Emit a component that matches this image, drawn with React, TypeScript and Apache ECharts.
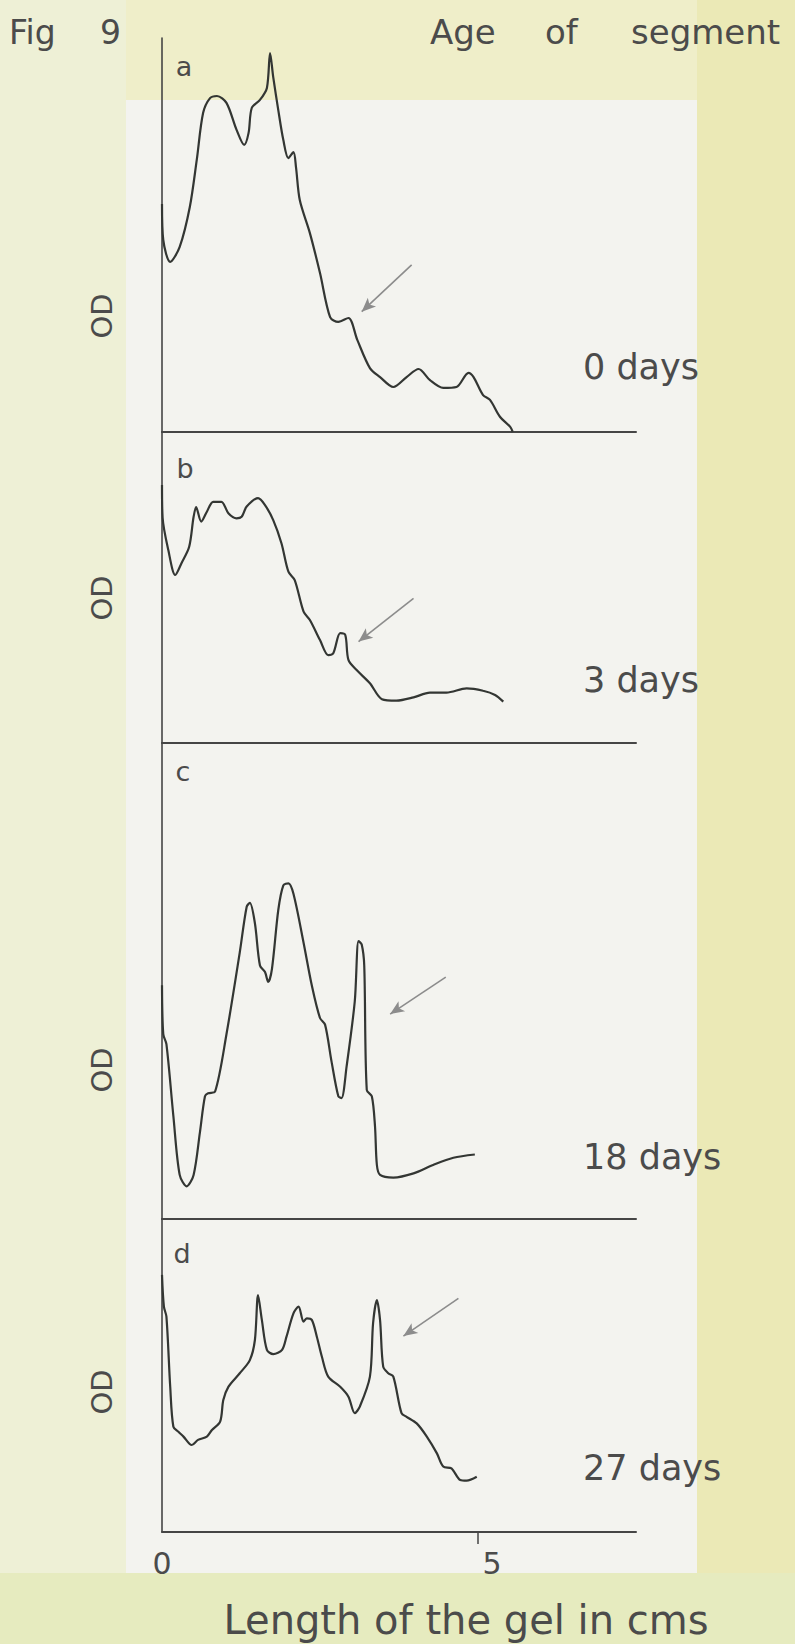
import React, { useEffect, useRef } from "react";
import * as echarts from "echarts";

// ---- Data (x: length of gel in cm, OD: arbitrary densitometer units) ----
const aX = [0, 0.02, 0.13, 0.28, 0.44, 0.55, 0.65, 0.76, 0.87, 1.02, 1.18, 1.30, 1.37, 1.42, 1.55, 1.66, 1.71, 1.76, 1.84, 1.92, 2.00, 2.08, 2.12, 2.18, 2.34, 2.50, 2.66, 2.79, 2.95, 3.09, 3.29, 3.45, 3.66, 3.87, 4.06, 4.24, 4.45, 4.66, 4.85, 4.93, 5.08, 5.19, 5.35, 5.51, 5.55];
const aOD = [76, 64, 56.7, 61.7, 75, 90.7, 106.3, 111.3, 112, 109.7, 100.7, 95.7, 99.7, 108, 110.7, 114.7, 126.3, 118.3, 107.3, 97.3, 91.3, 93.3, 88.3, 77.3, 66.3, 53, 38.3, 36.7, 38, 30.7, 21.3, 18.3, 15, 18.3, 21, 17.3, 14.7, 15, 19.7, 18.3, 12.3, 10.7, 5, 1.7, 0];

const bX = [0, 0.01, 0.10, 0.21, 0.31, 0.43, 0.50, 0.54, 0.62, 0.71, 0.81, 0.94, 1.05, 1.18, 1.26, 1.34, 1.52, 1.63, 1.76, 1.89, 2.00, 2.10, 2.24, 2.34, 2.50, 2.63, 2.71, 2.82, 2.90, 2.95, 3.08, 3.29, 3.48, 3.71, 3.98, 4.24, 4.50, 4.82, 5.08, 5.27, 5.40];
const bOD = [86, 75, 64.3, 56, 60, 65.4, 75.4, 78.6, 73.8, 77.1, 80.4, 80.4, 76.6, 74.9, 75.4, 78.8, 81.6, 79.3, 74.3, 66.6, 57.1, 54.3, 43.8, 41, 34.3, 29.3, 29.9, 36.6, 36, 27.7, 24.3, 19.9, 14.6, 14.1, 15.2, 16.8, 16.8, 18.2, 17.4, 16, 13.8];

const cX = [0, 0.02, 0.07, 0.18, 0.28, 0.39, 0.50, 0.60, 0.68, 0.73, 0.84, 1.02, 1.23, 1.34, 1.39, 1.47, 1.55, 1.63, 1.68, 1.74, 1.84, 1.92, 2.00, 2.08, 2.24, 2.37, 2.50, 2.58, 2.68, 2.79, 2.84, 2.92, 3.05, 3.11, 3.16, 3.20, 3.24, 3.32, 3.37, 3.40, 3.45, 3.66, 3.98, 4.29, 4.61, 4.95];
const cOD = [77.9, 61.6, 58.3, 34.3, 14.7, 10.9, 14.7, 28.9, 40.9, 41.9, 42.5, 61.6, 88.8, 104.1, 105.4, 98.6, 84.5, 82.3, 79, 83.4, 103, 111.2, 111.9, 108.4, 92.1, 77.9, 67, 64.8, 52.8, 40.9, 40.3, 50.7, 72.5, 92.6, 91.5, 84.5, 43, 40.9, 31.0, 18, 14.7, 13.8, 15.2, 18, 20.4, 21.5];

const dX = [0, 0.03, 0.07, 0.13, 0.18, 0.26, 0.34, 0.47, 0.57, 0.71, 0.79, 0.92, 0.97, 1.05, 1.23, 1.39, 1.47, 1.52, 1.58, 1.66, 1.76, 1.90, 1.97, 2.08, 2.16, 2.24, 2.29, 2.37, 2.45, 2.53, 2.63, 2.82, 2.95, 3.05, 3.13, 3.29, 3.34, 3.40, 3.45, 3.50, 3.58, 3.66, 3.79, 3.87, 4.03, 4.19, 4.35, 4.45, 4.58, 4.72, 4.82, 4.98];
const dOD = [85.7, 75.1, 71.8, 48.4, 35.1, 33.4, 31.8, 29, 30.7, 31.8, 34, 36.8, 44, 48.4, 52.9, 57.3, 64, 79, 70.7, 60.7, 59.3, 60.7, 65.1, 72.9, 75.1, 70.1, 71.2, 70.7, 65.1, 58.4, 51.8, 48.4, 45.1, 39.6, 41.8, 51.8, 69.6, 77.3, 70.7, 55.1, 52.9, 51.8, 39.6, 38.4, 36.2, 31.8, 26.2, 21.8, 21.2, 17.3, 17.1, 18.4];

const panelLetters = ["a", "b", "c", "d"];
const ageLabels = ["0 days", "3 days", "18 days", "27 days"];
const xTickLabels = [0, 5];
const xMax = 7.5;
// arrow annotations (start -> head), in data units (cm, OD)
const arrowFrom = [[3.95, 55.7], [3.98, 48.2], [4.49, 80.6], [4.69, 77.9]];
const arrowTo = [[3.16, 40.1], [3.11, 33.8], [3.61, 68.3], [3.82, 65.3]];

const seriesX = [aX, bX, cX, dX];
const seriesOD = [aOD, bOD, cOD, dOD];

// ---- Layout ----
const W = 795;
const H = 1644;
const PLOT_LEFT = 162;
const PLOT_WIDTH = 474;
const panelTop = [38, 432, 743, 1219];
const panelBottom = [432, 743, 1219, 1532];
const PX_PER_UNIT = 3;
const FONT = "DejaVu Sans";
const TEXT_COLOR = "#4b4b4b";
const LINE_COLOR = "#333633";
const AXIS_COLOR = "#454545";

const odLabelY = [316, 598, 1070, 1392];
const letterPos = [[184, 66], [185, 468], [183, 771], [182, 1253]];
const ageLabelY = [367, 680, 1157, 1468];

export default function App() {
  const ref = useRef<HTMLDivElement>(null);

  useEffect(() => {
    if (!ref.current) return;
    const chart = echarts.init(ref.current, null, { renderer: "svg", width: W, height: H });

    const grids = panelTop.map((t, i) => ({
      left: PLOT_LEFT,
      top: t,
      width: PLOT_WIDTH,
      height: panelBottom[i] - t,
    }));

    const xAxes = panelTop.map((_, i) => ({
      type: "value",
      gridIndex: i,
      min: 0,
      max: xMax,
      axisLine: { show: true, lineStyle: { color: AXIS_COLOR, width: 2 } },
      axisTick: {
        show: i === 3,
        customValues: [5],
        length: 12,
        lineStyle: { color: AXIS_COLOR, width: 1.5 },
      },
      axisLabel: {
        show: i === 3,
        customValues: xTickLabels,
        margin: 16,
        formatter: (v: number) => (v === 5 ? "{r|5}" : "{n|" + v + "}"),
        rich: {
          r: { fontSize: 30, fontFamily: FONT, color: TEXT_COLOR, padding: [0, 0, 0, 28] },
          n: { fontSize: 30, fontFamily: FONT, color: TEXT_COLOR },
        },
      },
      splitLine: { show: false },
    }));

    const yAxes = panelTop.map((t, i) => ({
      type: "value",
      gridIndex: i,
      min: 0,
      max: (panelBottom[i] - t) / PX_PER_UNIT,
      axisLine: { show: true, onZero: false, lineStyle: { color: AXIS_COLOR, width: 1.6 } },
      axisTick: { show: false },
      axisLabel: { show: false },
      splitLine: { show: false },
    }));

    const series = seriesX.map((xs, i) => ({
      type: "line",
      name: panelLetters[i],
      xAxisIndex: i,
      yAxisIndex: i,
      data: xs.map((x, k) => [x, seriesOD[i][k]]),
      showSymbol: false,
      smooth: 0.3,
      lineStyle: { color: LINE_COLOR, width: 2.2 },
      markLine: {
        silent: true,
        animation: false,
        symbol: ["none", "arrow"],
        symbolSize: [9, 14],
        label: { show: false },
        lineStyle: { color: "#8c8c8c", width: 1.6, type: "solid" },
        data: [[{ coord: arrowFrom[i] }, { coord: arrowTo[i] }]],
      },
    }));

    const texts: any[] = [];
    const addText = (text: string, x: number, y: number, size: number, align = "left", rotation = 0) => {
      texts.push({
        type: "text",
        x,
        y,
        rotation,
        silent: true,
        style: {
          text,
          fontSize: size,
          fontFamily: FONT,
          fill: TEXT_COLOR,
          align,
          verticalAlign: "middle",
        },
      });
    };

    addText("Fig", 9, 32, 33);
    addText("9", 100, 32, 33);
    addText("Age", 430, 32, 34);
    addText("of", 545, 32, 34);
    addText("segment", 631, 32, 34);
    panelLetters.forEach((l, i) => addText(l, letterPos[i][0], letterPos[i][1], 27, "center"));
    odLabelY.forEach((y) => addText("OD", 102, y, 29, "center", Math.PI / 2));
    ageLabels.forEach((l, i) => addText(l, 583, ageLabelY[i], 35));
    addText("Length of the gel in cms", 466, 1620, 40, "center");

    const backgrounds = [
      { type: "rect", z: -20, silent: true, shape: { x: 0, y: 0, width: 126, height: H }, style: { fill: "#eef0d6" } },
      { type: "rect", z: -20, silent: true, shape: { x: 697, y: 0, width: 98, height: H }, style: { fill: "#ebe9b6" } },
      { type: "rect", z: -19, silent: true, shape: { x: 0, y: 1573, width: W, height: 71 }, style: { fill: "#e6ebbf" } },
      { type: "rect", z: -19, silent: true, shape: { x: 126, y: 100, width: 571, height: 1473 }, style: { fill: "#f3f3ef" } },
    ];

    chart.setOption({
      animation: false,
      backgroundColor: "#efeec9",
      grid: grids,
      xAxis: xAxes,
      yAxis: yAxes,
      series,
      graphic: { elements: [...backgrounds, ...texts] },
    });

    return () => chart.dispose();
  }, []);

  return (
    <div
      ref={ref}
      style={{ position: "absolute", left: 0, top: 0, width: W, height: H }}
    />
  );
}
